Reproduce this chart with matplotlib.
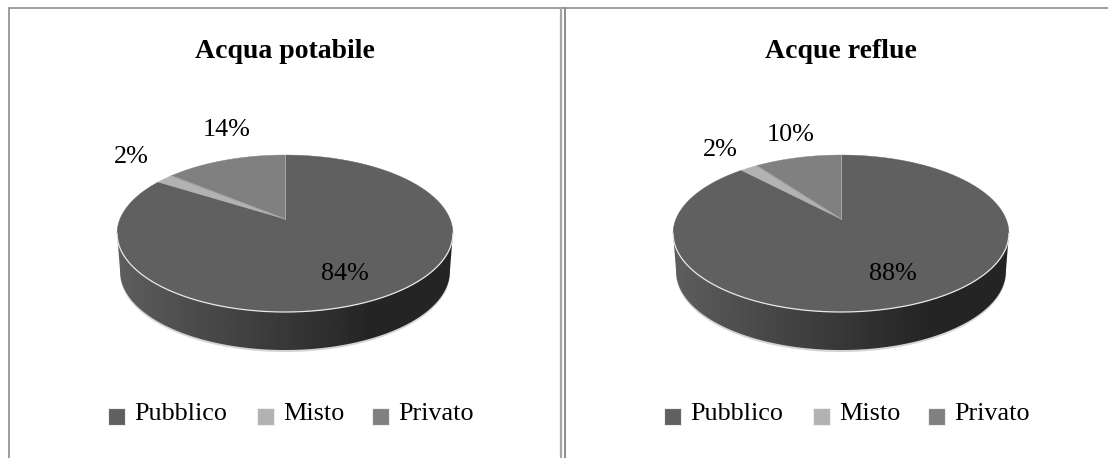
import numpy as np
import matplotlib
matplotlib.use('Agg')
import matplotlib.pyplot as plt
from matplotlib.patches import Polygon, Rectangle

plt.rcParams['font.family'] = ['Liberation Serif', 'DejaVu Serif']

# Data
categories = ['Pubblico', 'Misto', 'Privato']
titles = ['Acqua potabile', 'Acque reflue']
potabile_values = [84, 2, 14]
reflue_values = [88, 2, 10]

colors = ['#606060', '#b2b2b2', '#808080']
label_pos_potabile = [(345, 274), (131, 157), (227, 130)]
label_pos_reflue = [(893, 274), (720, 150), (791, 135)]

# Pie geometry in pixels
APEX_Y = 219
K = 0.185      # perspective
A = 165
B = 75.8
DEPTH = 38


def project(theta, cx):
    # theta in radians, clockwise from 12 o'clock
    x = np.sin(theta)
    y = np.cos(theta)
    den = 1 + K * y
    return cx + A * x / den, APEX_Y - B * y / den


def draw_pie(ax, values, cx, title, label_pos):
    t = np.linspace(0, 2 * np.pi, 361)
    xs, ys = project(t, cx)

    # rim of the lower face, a little narrower than the top
    xb = cx + (xs - cx) * 0.982
    yb = ys + DEPTH

    # soft shadow below the side
    ax.add_patch(Polygon(np.c_[xb, yb + 2], closed=True, fc='#d4d4d4', ec='none', zorder=1))

    # side wall with gradient, between the widest points of the ellipse
    widest = np.arccos(-K)
    near = np.linspace(widest, 2 * np.pi - widest, 181)
    xn, yn = project(near, cx)
    top_edge = np.c_[xn, yn]
    bot_edge = np.c_[cx + (xn - cx) * 0.982, yn + DEPTH][::-1]
    wall = Polygon(np.r_[top_edge, bot_edge], closed=True, fc='none', ec='none')
    ax.add_patch(wall)
    grad = np.interp(np.linspace(0, 1, 256), [0, 0.25, 0.5, 0.75, 1], [0x5e, 0x4a, 0x38, 0x25, 0x24])
    # near runs right to left, the gradient is dark on the right
    im = ax.imshow(grad[None, :], cmap='gray', vmin=0, vmax=255, aspect='auto',
                   extent=(cx - 168, cx + 168, 360, 220), zorder=2)
    im.set_clip_path(wall)

    # top face, wedges clockwise from 12 o'clock
    ends = np.cumsum(values) / np.sum(values) * 2 * np.pi
    starts = np.r_[0, ends[:-1]]
    for s, e, c in zip(starts, ends, colors):
        tw = np.linspace(s, e, max(int(np.degrees(e - s)), 2) + 1)
        wx, wy = project(tw, cx)
        pts = np.r_[[[cx, APEX_Y]], np.c_[wx, wy]]
        ax.add_patch(Polygon(pts, closed=True, fc=c, ec=c, lw=0.3, zorder=3))

    # light rim along the near edge and wedge separators
    ax.plot(xn, yn, color='#e8e8e8', lw=0.9, zorder=4)
    for a in ends[-2:]:
        ex, ey = project(np.array([a]), cx)
        ax.plot([cx, ex[0]], [APEX_Y, ey[0]], color='#a8a8a8', lw=0.7, zorder=4)

    ax.text(cx, 52, title, fontsize=20, fontweight='bold', ha='center', va='center', color='black', zorder=5)

    for v, (lx, ly) in zip(values, label_pos):
        ax.text(lx, ly, f'{v}%', fontsize=18.8, ha='center', va='center', color='black', zorder=5)

    # legend
    offset = cx - 285
    for name, c, sq_x in zip(categories, colors, [108, 257, 372]):
        ax.add_patch(Rectangle((sq_x + offset, 408), 16.5, 16.5, fc=c, ec='#eeeeee', lw=0.8, zorder=3))
        ax.text(sq_x + offset + 26, 420, name, fontsize=18.8, ha='left', va='baseline', color='black', zorder=5)


fig = plt.figure(figsize=(11.08, 4.58), dpi=100, facecolor='white')
ax = fig.add_axes([0, 0, 1, 1])
ax.set_xlim(0, 1108)
ax.set_ylim(458, 0)
ax.axis('off')

# panel frames
ax.plot([1108, 8.5, 8.5], [7.5, 7.5, 458], color='#8c8c8c', lw=1.2, solid_joinstyle='miter', zorder=1)
ax.plot([560.5, 560.5], [7.5, 458], color='#a6a6a6', lw=1.6, zorder=1)
ax.plot([565, 565], [7.5, 458], color='#8c8c8c', lw=1.4, zorder=1)

draw_pie(ax, potabile_values, 285, titles[0], label_pos_potabile)
draw_pie(ax, reflue_values, 841, titles[1], label_pos_reflue)

ax.set_xlim(0, 1108)
ax.set_ylim(458, 0)
fig.savefig('out.png', dpi=100)
